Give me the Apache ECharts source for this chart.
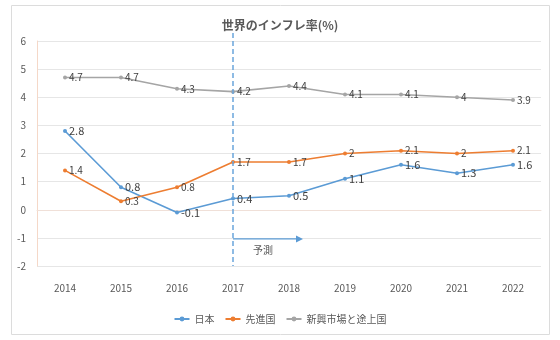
<!DOCTYPE html>
<html><head><meta charset="utf-8">
<script src="https://cdn.jsdelivr.net/npm/echarts@6/dist/echarts.min.js"></script>
<style>html,body{margin:0;padding:0;background:#fff}#c{width:560px;height:340px}</style>
</head><body><div id="c"></div>
<script>
const years = ['2014','2015','2016','2017','2018','2019','2020','2021','2022'];
const japan = [2.8, 0.8, -0.1, 0.4, 0.5, 1.1, 1.6, 1.3, 1.6];
const advanced = [1.4, 0.3, 0.8, 1.7, 1.7, 2.0, 2.1, 2.0, 2.1];
const emerging = [4.7, 4.7, 4.3, 4.2, 4.4, 4.1, 4.1, 4.0, 3.9];
const seriesNames = ['日本', '先進国', '新興市場と途上国'];
const forecastStart = '2017';
const forecastLabel = '予測';
const font = '"Noto Sans CJK JP", "Noto Sans", sans-serif';

const chart = echarts.init(document.getElementById('c'));
function mk(name, data, color, fs) {
  return {
    name, type: 'line', data, symbol: 'circle', symbolSize: 4,
    lineStyle: {color, width: 1.6}, itemStyle: {color},
    label: {show: true, position: 'right', distance: 2, color: '#404040', fontSize: fs, fontFamily: font},
    emphasis: {disabled: true}, z: 3
  };
}
chart.setOption({
  animation: false,
  title: {text: '世界のインフレ率(%)', left: 'center', top: 14,
    textStyle: {fontSize: 12, fontWeight: 'bold', color: '#595959', fontFamily: font}},
  grid: {left: 37, right: 19, top: 41, bottom: 74},
  legend: {bottom: 11, left: 'center', itemWidth: 15, itemHeight: 6, itemGap: 10,
    textStyle: {fontSize: 10, color: '#595959', fontFamily: font}},
  xAxis: {type: 'category', data: years, boundaryGap: true,
    axisLine: {lineStyle: {color: '#f0e0d8'}}, axisTick: {show: false},
    axisLabel: {color: '#595959', fontSize: 10, margin: 17, fontFamily: font}},
  yAxis: {type: 'value', min: -2, max: 6, interval: 1,
    axisLine: {show: true, lineStyle: {color: '#f5d8c8'}},
    axisLabel: {color: '#595959', fontSize: 10, margin: 11, fontFamily: font},
    splitLine: {lineStyle: {color: '#e6e6e6'}}},
  series: [
    mk(seriesNames[0], japan, '#5b9bd5', 11),
    mk(seriesNames[1], advanced, '#ed7d31', 10),
    mk(seriesNames[2], emerging, '#a5a5a5', 10)
  ]
});

const p0 = chart.convertToPixel({xAxisIndex: 0, yAxisIndex: 0}, [forecastStart, 6]);
const pb = chart.convertToPixel({xAxisIndex: 0, yAxisIndex: 0}, [forecastStart, -2]);
const pa = chart.convertToPixel({xAxisIndex: 0, yAxisIndex: 0}, [forecastStart, -1]);
const x = Math.round(p0[0]);
chart.setOption({
  graphic: [
    {type: 'rect', shape: {x: 11.5, y: 5.5, width: 538, height: 329},
      style: {fill: 'none', stroke: '#dcdcdc', lineWidth: 1}, silent: true},
    {type: 'line', shape: {x1: x, y1: p0[1] - 8, x2: x, y2: pb[1]},
      style: {stroke: '#6aa5dc', lineWidth: 1.5, lineDash: [5, 3]}, z: 5},
    {type: 'line', shape: {x1: x, y1: pa[1] + 1, x2: x + 66, y2: pa[1] + 1},
      style: {stroke: '#5b9bd5', lineWidth: 1.2}, z: 5},
    {type: 'polygon', shape: {points: [[x + 70, pa[1] + 1], [x + 63, pa[1] - 2.5], [x + 63, pa[1] + 4.5]]},
      style: {fill: '#5b9bd5'}, z: 5},
    {type: 'text', x: x + 30, y: pa[1] + 12,
      style: {text: forecastLabel, fill: '#595959', fontSize: 10, fontFamily: font, align: 'center', verticalAlign: 'middle'}, z: 5}
  ]
});
</script></body></html>
